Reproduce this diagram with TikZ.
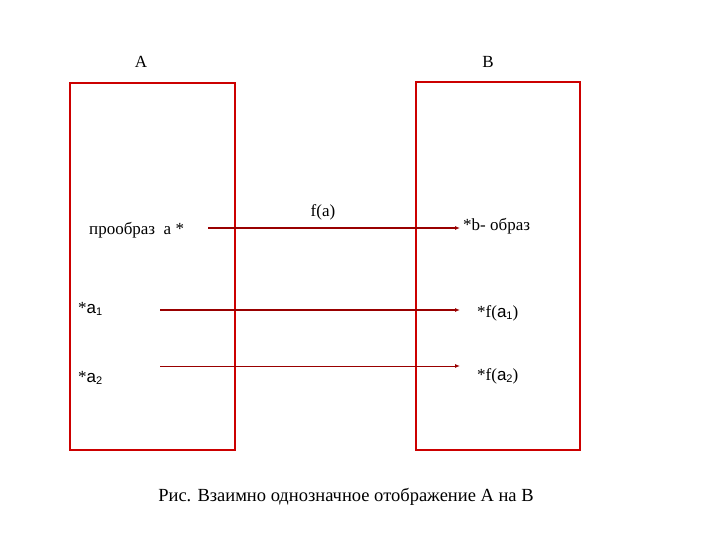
\documentclass[tikz,border=0pt]{standalone}
\usepackage{fontspec}
\setmainfont{Liberation Serif}
\newfontfamily\arial{Liberation Sans}
\usetikzlibrary{arrows.meta}
\definecolor{boxred}{RGB}{204,0,0}
\definecolor{arrred}{RGB}{153,0,0}
\tikzset{setbox/.style={draw=boxred,line width=2pt},
 maparrow/.style={draw=arrred,line width=1.6pt,-{Latex[length=5pt,width=4pt]}},
 lbl/.style={font=\fontsize{17}{20}\selectfont,inner sep=0pt,anchor=west}}
\newcommand{\sa}[1]{{\arial a}\raisebox{-0.35ex}{\fontsize{11}{12}\selectfont\arial #1}}
\begin{document}
\begin{tikzpicture}[x=1pt,y=-1pt]
\useasboundingbox (0,0) rectangle (720,540);
\draw[setbox] (70,83) rectangle (235,450);
\draw[setbox] (416,82) rectangle (580,450);
\node[lbl,anchor=center] (A) at (141,62) {A};
\node[lbl,anchor=center] (B) at (488,62) {B};
\node[lbl] (pre) at (89,230) {прообраз\ \ a *};
\node[lbl] (img) at (463,226) {*b- образ};
\node[lbl,anchor=center] (fa) at (323,212) {f(a)};
\node[lbl] (a1) at (78,309) {*\sa{1}};
\node[lbl] (a2) at (78,378) {*\sa{2}};
\node[lbl] (fa1) at (477,313) {*f(\sa{1})};
\node[lbl] (fa2) at (477,376) {*f(\sa{2})};
\coordinate (s0) at (208,228); \coordinate (e0) at (460,228);
\coordinate (s1) at (160,310); \coordinate (e1) at (460,310);
\coordinate (s2) at (160,366); \coordinate (e2) at (460,366);
\draw[maparrow] (s0) -- (e0);
\draw[maparrow] (s1) -- (e1);
\draw[maparrow,line width=1pt] (s2) -- (e2);
\node[font=\fontsize{18.5}{22}\selectfont,inner sep=0pt] (cap) at (346,497) {Рис. Взаимно однозначное отображение A на B};
\end{tikzpicture}
\end{document}
